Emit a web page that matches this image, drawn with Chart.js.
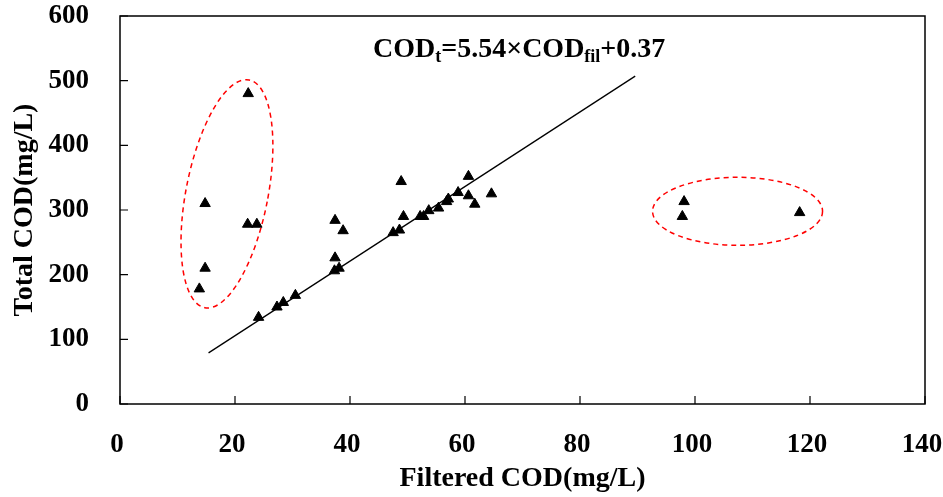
<!DOCTYPE html>
<html>
<head>
<meta charset="utf-8">
<script src="https://cdn.jsdelivr.net/npm/chart.js@4.4.0/dist/chart.umd.min.js"></script>
<style>
  body { margin: 0; background: #fff; }
  canvas { display: block; }
</style>
</head>
<body>
<canvas id="myChart" width="943" height="497"></canvas>
<script>
// data
const filteredCod = [22.3, 14.8, 22.2, 23.8, 14.8, 13.8, 24.1, 27.3, 28.4, 30.5,
  37.4, 38.8, 37.4, 37.3, 38.1, 48.9, 47.5, 48.6, 49.3, 52.2, 52.8, 53.7, 55.4,
  56.8, 57.1, 58.8, 60.6, 60.6, 61.7, 64.6, 98.1, 97.8, 118.2];
const totalCod = [480, 310, 278, 278, 210, 178, 134, 150, 157, 168,
  284, 268, 226, 206, 210, 344, 265, 269, 290, 290, 290, 299, 303,
  313, 317, 327, 352, 322, 309, 325, 313, 290, 296];

// fitted line end points
const fitX = [15.4, 89.6];
const fitY = [79, 507];

const xTicks = [0, 20, 40, 60, 80, 100, 120, 140];
const yTicks = [0, 100, 200, 300, 400, 500, 600];

const xTitle = "Filtered COD(mg/L)";
const yTitle = "Total COD(mg/L)";
// equation pieces: [text, isSubscript]
const equation = [["COD", false], ["t", true], ["=5.54×COD", false], ["fil", true], ["+0.37", false]];
const equationAt = { x: 44, y: 537 };

// dashed circles round the outliers (centre in data units, radii in px)
const rings = [
  { x: 18.6, y: 325, rx: 41, ry: 116, rot: 0.192 },
  { x: 107.4, y: 298, rx: 85, ry: 34, rot: 0 },
];

const FONT = "'Liberation Serif', 'Times New Roman', serif";
const SIZE = 28;

const pointsData = filteredCod.map((x, i) => ({ x: x, y: totalCod[i] }));
const lineData = fitX.map((x, i) => ({ x: x, y: fitY[i] }));

const extras = {
  id: "extras",
  afterDraw(chart) {
    const ctx = chart.ctx;
    const xs = chart.scales.x;
    const ys = chart.scales.y;
    const a = chart.chartArea;
    ctx.save();

    // box round the plot
    ctx.strokeStyle = "#000";
    ctx.lineWidth = 1.5;
    ctx.strokeRect(a.left, a.top, a.right - a.left, a.bottom - a.top);

    // inward tick marks
    ctx.lineWidth = 1.2;
    ctx.beginPath();
    xTicks.forEach((v) => {
      const px = xs.getPixelForValue(v);
      ctx.moveTo(px, a.bottom);
      ctx.lineTo(px, a.bottom - 8);
    });
    yTicks.forEach((v) => {
      const py = ys.getPixelForValue(v);
      ctx.moveTo(a.left, py);
      ctx.lineTo(a.left + 8, py);
    });
    ctx.stroke();

    // red dashed rings
    ctx.strokeStyle = "#ff0000";
    ctx.lineWidth = 1.5;
    ctx.setLineDash([5, 4]);
    rings.forEach((r) => {
      ctx.beginPath();
      ctx.ellipse(xs.getPixelForValue(r.x), ys.getPixelForValue(r.y), r.rx, r.ry, r.rot, 0, Math.PI * 2);
      ctx.stroke();
    });
    ctx.setLineDash([]);

    // equation
    let ex = xs.getPixelForValue(equationAt.x);
    const ey = ys.getPixelForValue(equationAt.y);
    ctx.fillStyle = "#000";
    ctx.textBaseline = "alphabetic";
    ctx.textAlign = "left";
    equation.forEach(([txt, sub]) => {
      ctx.font = "bold " + (sub ? 18 : SIZE) + "px " + FONT;
      ctx.fillText(txt, ex, sub ? ey + 5 : ey);
      ex += ctx.measureText(txt).width;
    });
    ctx.restore();
  },
};

new Chart("myChart", {
  type: "scatter",
  data: {
    datasets: [
      {
        data: pointsData,
        pointStyle: "triangle",
        pointRadius: 6,
        backgroundColor: "#000",
        borderColor: "#000",
        borderWidth: 1,
      },
      {
        data: lineData,
        showLine: true,
        pointRadius: 0,
        borderColor: "#000",
        borderWidth: 1.3,
      },
    ],
  },
  options: {
    responsive: false,
    animation: false,
    events: [],
    layout: { padding: { top: 16, right: 18, left: 0, bottom: 0 } },
    plugins: { legend: { display: false }, tooltip: { enabled: false } },
    scales: {
      x: {
        type: "linear",
        min: 0,
        max: 140,
        afterFit: (s) => { s.height = 93; s.paddingRight = 18; },
        afterBuildTicks: (s) => { s.ticks = xTicks.map((v) => ({ value: v })); },
        // tickLength only pushes the labels down; marks are drawn by the plugin
        grid: { display: false, drawTicks: true, tickLength: 25 },
        border: { display: false },
        ticks: { color: "#000", padding: 0, labelOffset: -3, font: { family: FONT, size: 27, weight: "bold" } },
        title: {
          display: true,
          text: xTitle,
          color: "#000",
          padding: { top: 0, bottom: 1 },
          font: { family: FONT, size: SIZE, weight: "bold" },
        },
      },
      y: {
        type: "linear",
        min: 0,
        max: 600,
        afterFit: (s) => { s.width = 120; s.paddingTop = 16; },
        afterBuildTicks: (s) => { s.ticks = yTicks.map((v) => ({ value: v })); },
        grid: { display: false, drawTicks: true, tickLength: 31 },
        border: { display: false },
        ticks: { color: "#000", padding: 0, font: { family: FONT, size: 27, weight: "bold" } },
        title: {
          display: true,
          text: yTitle,
          color: "#000",
          padding: { top: 8, bottom: 0 },
          font: { family: FONT, size: SIZE, weight: "bold" },
        },
      },
    },
  },
  plugins: [extras],
});
</script>
</body>
</html>
